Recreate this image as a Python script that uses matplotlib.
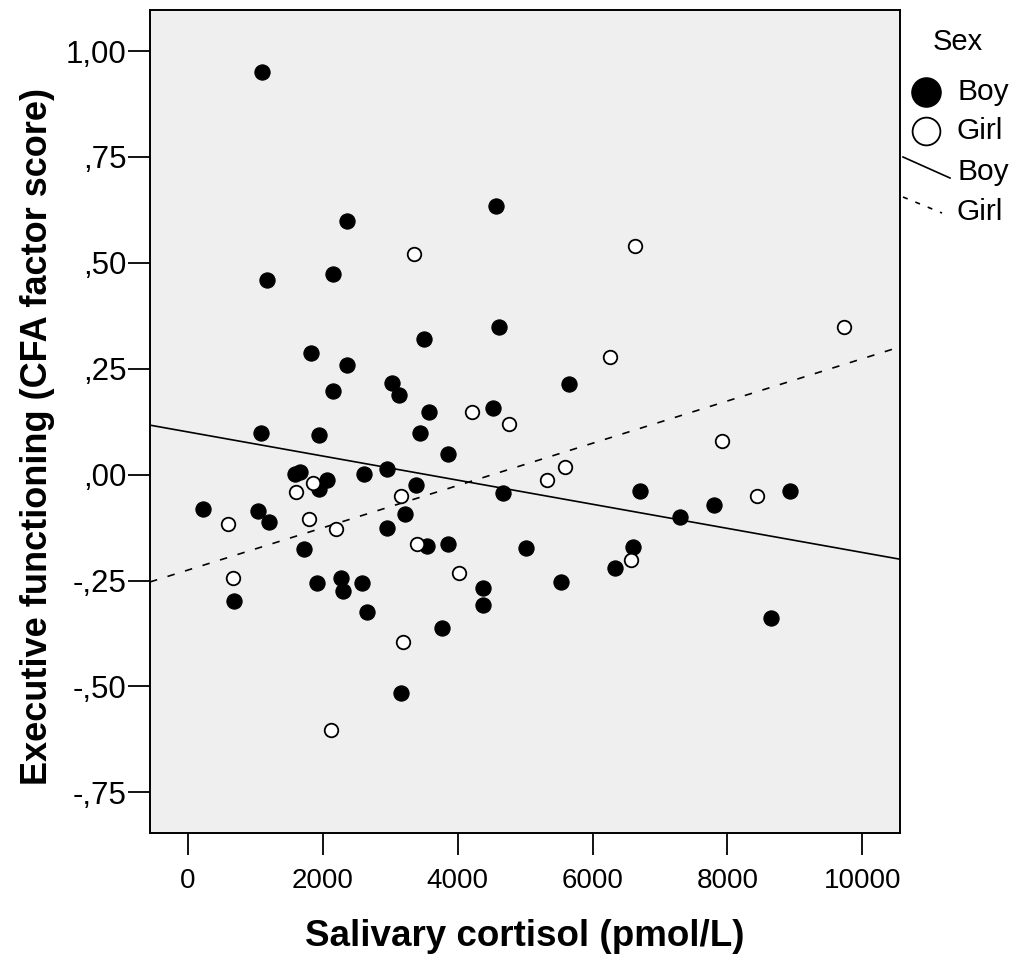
import numpy as np
from matplotlib import pyplot as plt
from matplotlib.lines import Line2D

# Salivary cortisol (pmol/L) and executive functioning scores, by sex
boy_x = [1094, 2356, 4563, 1168, 2143, 4612, 3494, 1821, 2356, 3028,
         3132, 2143, 3568, 4518, 5646, 1075, 1944, 3439, 3855, 2945,
         2608, 1584, 1658, 2063, 1944, 3380, 4676, 223, 1030, 1198,
         3212, 2954, 1722, 3539, 3859, 5017, 1906, 2271, 2301, 2574,
         4379, 683, 2648, 3761, 3157, 4370, 6700, 8927, 7799, 7303,
         6601, 6329, 5528, 8649]
boy_y = [0.950, 0.600, 0.634, 0.459, 0.474, 0.349, 0.320, 0.288, 0.260, 0.216,
         0.189, 0.197, 0.149, 0.158, 0.213, 0.099, 0.093, 0.099, 0.048, 0.013,
         0.001, 0.001, 0.006, -0.013, -0.034, -0.025, -0.043, -0.082, -0.085, -0.111,
         -0.092, -0.126, -0.176, -0.169, -0.163, -0.174, -0.255, -0.243, -0.274, -0.256,
         -0.268, -0.298, -0.324, -0.362, -0.515, -0.307, -0.039, -0.039, -0.071, -0.101,
         -0.171, -0.220, -0.254, -0.338]

girl_x = [3355, 6630, 9722, 6255, 4211, 4765, 7926, 1855, 1594, 3153,
          5587, 5329, 8441, 585, 1792, 2192, 3395, 659, 4018, 6575,
          3191, 2114]
girl_y = [0.520, 0.539, 0.348, 0.278, 0.149, 0.119, 0.079, -0.020, -0.042, -0.051,
          0.019, -0.013, -0.050, -0.117, -0.104, -0.129, -0.163, -0.244, -0.232, -0.202,
          -0.394, -0.603]

# fit lines (intercept, slope) as shown in the chart
boy_fit = (0.1008, -2.845e-5)
girl_fit = (-0.2251, 4.988e-5)

y_ticks = [1.00, 0.75, 0.50, 0.25, 0.00, -0.25, -0.50, -0.75]
y_tick_labels = ['1,00', ',75', ',50', ',25', ',00', '-,25', '-,50', '-,75']
x_ticks = [0, 2000, 4000, 6000, 8000, 10000]

plt.rcParams['font.family'] = ['Liberation Sans', 'DejaVu Sans']

fig = plt.figure(figsize=(10.19, 9.66), dpi=100)
ax = fig.add_axes([150 / 1019, 133 / 966, 750 / 1019, 823 / 966])
ax.set_facecolor('#efefef')

ax.set_xlim(-565, 10560)
ax.set_ylim(-0.846, 1.097)

xs = np.array(ax.get_xlim())
ax.plot(xs, boy_fit[0] + boy_fit[1] * xs, color='black', lw=1.2, zorder=2)
ax.plot(xs, girl_fit[0] + girl_fit[1] * xs, color='black', lw=1.2,
        ls=(0, (4.5, 6.5)), zorder=2)

ax.scatter(boy_x, boy_y, s=120, c='black', edgecolors='black', lw=0.8, zorder=3)
ax.scatter(girl_x, girl_y, s=95, c='white', edgecolors='black', lw=1.3, zorder=4)

ax.set_xticks(x_ticks)
ax.set_xticklabels([str(v) for v in x_ticks], fontsize=20)
ax.set_yticks(y_ticks)
ax.set_yticklabels(y_tick_labels, fontsize=22.5)
ax.tick_params(axis='both', direction='out', length=16, width=1.3)
ax.tick_params(axis='x', pad=9)
ax.tick_params(axis='y', pad=1)
for sp in ax.spines.values():
    sp.set_linewidth(1.4)

ax.set_xlabel('Salivary cortisol (pmol/L)', fontsize=26.5, fontweight='bold')
ax.set_ylabel('Executive functioning (CFA factor score)', fontsize=26,
              fontweight='bold')
ax.xaxis.set_label_coords(0.5, -0.105)
ax.yaxis.set_label_coords(-0.127, 0.482)

# legend drawn by hand, SPSS style
W, H = 1019, 966
fig.text(958 / W, 1 - 42 / H, 'Sex', fontsize=21, ha='center', va='center')
fig.add_artist(Line2D([926 / W], [1 - 92 / H], marker='o', markersize=21,
                      color='black', mfc='black', ls='none'))
fig.add_artist(Line2D([926 / W], [1 - 131 / H], marker='o', markersize=20,
                      color='black', mfc='white', mew=1.3, ls='none'))
fig.add_artist(Line2D([903 / W, 950 / W], [1 - 157 / H, 1 - 178 / H],
                      color='black', lw=1.2))
fig.add_artist(Line2D([903 / W, 942 / W], [1 - 197 / H, 1 - 213 / H],
                      color='black', lw=1.2, ls=(0, (3, 5))))
for label, yy in [('Boy', 92), ('Girl', 131), ('Boy', 172), ('Girl', 212)]:
    fig.text(957 / W, 1 - yy / H, label, fontsize=21.5, ha='left', va='center')

fig.savefig('out.png', dpi=100)
